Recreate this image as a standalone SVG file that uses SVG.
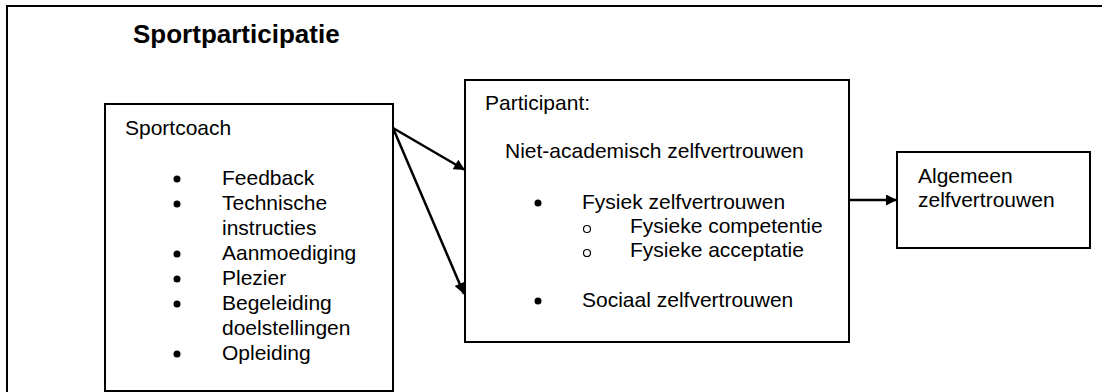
<svg xmlns="http://www.w3.org/2000/svg" width="1102" height="392" viewBox="0 0 1102 392">
<defs>
<style>
.box{fill:#fff;stroke:#000;stroke-width:2}
.t{font-family:"Liberation Sans",Arial,sans-serif;font-size:21px;fill:#000}
.title{font-family:"Liberation Sans",Arial,sans-serif;font-size:26px;font-weight:bold;fill:#000}
.conn{stroke:#000;stroke-width:2.5;fill:none;marker-end:url(#arr)}
.dot{fill:#000}
.ring{fill:none;stroke:#000;stroke-width:1.2}
</style>
<marker id="arr" viewBox="0 0 10 10" refX="10" refY="5" markerWidth="6" markerHeight="4.4" orient="auto" markerUnits="strokeWidth">
<path d="M0,0 L10,5 L0,10 z" fill="#000"/>
</marker>
</defs>
<rect width="1102" height="392" fill="#fff"/>
<g id="frame">
<rect x="7" y="6" width="1110" height="400" fill="none" stroke="#000" stroke-width="2"/>
<text class="title" x="133" y="43">Sportparticipatie</text>
</g>
<g id="sportcoach">
<rect class="box" x="105" y="104" width="288" height="287"/>
<text class="t" x="125" y="135">Sportcoach</text>
<circle class="dot" cx="177" cy="179" r="3.5"/>
<circle class="dot" cx="177" cy="204" r="3.5"/>
<circle class="dot" cx="177" cy="254" r="3.5"/>
<circle class="dot" cx="177" cy="279" r="3.5"/>
<circle class="dot" cx="177" cy="304" r="3.5"/>
<circle class="dot" cx="177" cy="354" r="3.5"/>
<text class="t" x="222" y="185">Feedback</text>
<text class="t" x="222" y="210">Technische</text>
<text class="t" x="222" y="235">instructies</text>
<text class="t" x="222" y="260">Aanmoediging</text>
<text class="t" x="222" y="285">Plezier</text>
<text class="t" x="222" y="310">Begeleiding</text>
<text class="t" x="222" y="335">doelstellingen</text>
<text class="t" x="222" y="360">Opleiding</text>
</g>
<g id="participant">
<rect class="box" x="465" y="80" width="384" height="262"/>
<text class="t" x="485" y="110">Participant:</text>
<text class="t" x="505" y="158">Niet-academisch zelfvertrouwen</text>
<circle class="dot" cx="538" cy="203" r="3.5"/>
<text class="t" x="582" y="209">Fysiek zelfvertrouwen</text>
<circle class="ring" cx="587" cy="229" r="3.5"/>
<text class="t" x="630" y="233">Fysieke competentie</text>
<circle class="ring" cx="587" cy="253" r="3.5"/>
<text class="t" x="630" y="257">Fysieke acceptatie</text>
<circle class="dot" cx="538" cy="301" r="3.5"/>
<text class="t" x="582" y="307">Sociaal zelfvertrouwen</text>
</g>
<g id="algemeen">
<rect class="box" x="897" y="152" width="193" height="96"/>
<text class="t" x="918" y="183">Algemeen</text>
<text class="t" x="918" y="207">zelfvertrouwen</text>
</g>
<g id="connectors">
<line class="conn" x1="393" y1="128" x2="465" y2="170"/>
<line class="conn" x1="393" y1="128" x2="464" y2="294"/>
<line class="conn" x1="849" y1="200" x2="897" y2="200"/>
</g>
</svg>
